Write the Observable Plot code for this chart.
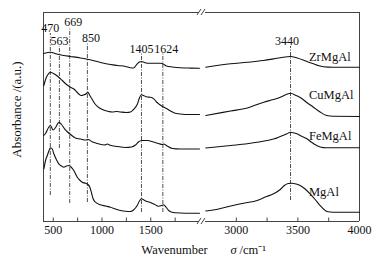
<!DOCTYPE html>
<html><head><meta charset="utf-8">
<script src="https://cdn.jsdelivr.net/npm/d3@7"></script>
<script src="https://cdn.jsdelivr.net/npm/@observablehq/plot@0.6"></script>
<style>html,body{margin:0;padding:0;background:#fff;}</style>
</head><body><div id="chart"></div>
<script>
const samples = ["ZrMgAl", "CuMgAl", "FeMgAl", "MgAl"];

const zrWave = [400,411,472,534,606,677,780,862,985,1087,1159,1241,1292,1323,1361,1384,1405,1436,1476,1531,1599,1630,1661,1722,1804,1907,2000,
  2752,2954,3089,3220,3357,3440,3494,3543,3583,3626,3664,3707,3785,4000];
const zrAbs = [1.68,1.683,1.693,1.675,1.66,1.65,1.635,1.62,1.59,1.57,1.56,1.55,1.537,1.535,1.577,1.595,1.60,1.59,1.582,1.583,1.583,1.575,1.555,1.545,1.537,1.534,1.533,
  1.543,1.577,1.592,1.61,1.637,1.65,1.635,1.615,1.595,1.577,1.56,1.548,1.543,1.543];

const cuWave = [404,421,442,472,503,541,592,636,677,711,738,762,785,811,841,856,872,900,933,967,1015,1067,1105,1149,1190,1251,1292,1323,1361,1384,1405,1425,1463,1497,1531,1559,1590,1630,1661,1702,1743,1804,1907,2000,
  2752,2954,3089,3223,3301,3357,3406,3440,3486,3519,3567,3626,3680,3734,3785,4000];
const cuAbs = [1.36,1.42,1.465,1.493,1.48,1.455,1.41,1.37,1.343,1.325,1.30,1.275,1.26,1.265,1.28,1.293,1.265,1.22,1.17,1.14,1.115,1.10,1.095,1.10,1.095,1.09,1.095,1.12,1.17,1.235,1.267,1.26,1.245,1.243,1.227,1.195,1.17,1.145,1.13,1.105,1.085,1.075,1.07,1.07,
  1.06,1.105,1.135,1.193,1.22,1.243,1.27,1.283,1.26,1.24,1.195,1.143,1.095,1.06,1.052,1.05];

const feWave = [400,421,452,472,498,524,559,585,616,647,677,728,780,831,856,903,954,1026,1056,1077,1159,1241,1302,1343,1374,1405,1466,1528,1579,1620,1635,1661,1722,1804,2000,
  2752,2954,3089,3169,3250,3303,3357,3411,3440,3492,3527,3573,3611,3653,3688,3728,4000];
const feAbs = [0.86,0.88,0.94,0.96,0.915,0.94,0.993,0.97,0.927,0.895,0.87,0.835,0.825,0.815,0.82,0.795,0.78,0.765,0.775,0.765,0.75,0.74,0.745,0.765,0.795,0.81,0.81,0.795,0.78,0.77,0.775,0.76,0.73,0.725,0.725,
  0.735,0.76,0.777,0.792,0.81,0.825,0.85,0.877,0.893,0.877,0.855,0.827,0.792,0.76,0.742,0.737,0.737];

const mgWave = [404,421,439,457,472,490,506,534,557,585,609,636,662,682,711,746,770,797,831,856,875,893,908,933,985,1036,1087,1138,1190,1241,1292,1323,1361,1384,1405,1430,1463,1497,1531,1559,1582,1610,1633,1655,1684,1712,1753,1856,2000,
  2752,2857,2954,3067,3169,3236,3303,3357,3390,3422,3452,3486,3519,3559,3599,3640,3680,3712,3736,3785,4000];
const mgAbs = [0.527,0.61,0.66,0.71,0.738,0.725,0.677,0.615,0.577,0.555,0.543,0.555,0.56,0.545,0.51,0.443,0.415,0.393,0.382,0.37,0.343,0.285,0.23,0.193,0.167,0.155,0.143,0.125,0.11,0.102,0.10,0.115,0.16,0.205,0.227,0.215,0.20,0.19,0.175,0.16,0.153,0.16,0.167,0.145,0.11,0.095,0.087,0.083,0.083,
  0.105,0.125,0.155,0.185,0.21,0.245,0.277,0.32,0.36,0.38,0.383,0.375,0.36,0.325,0.277,0.22,0.16,0.12,0.10,0.093,0.093];

const sampleLabelY = [1.65, 1.27, 0.855, 0.30];
const sampleLabelWave = 3590;

const peakWave = [470, 563, 669, 850, 1405, 1624, 3440];
const peakLabels = ["470", "563", "669", "850", "1405", "1624", "3440"];
const peakLabelY = [1.935, 1.80, 1.99, 1.835, 1.72, 1.72, 1.80];
const peakTop = [1.88, 1.75, 1.94, 1.78, 1.68, 1.68, 1.75];
const peakBottom = [0.26, 0.73, 0.18, 0.19, 0.09, 0.09, 0.21];

const xSegments = [[400, 2000], [2750, 4000]];
const majorTicks = [500, 1000, 1500, 3000, 3500, 4000];
const minorTicks = [750, 1250, 1750, 3250, 3750];
const yMax = 2.09;

const series = [[samples[0], zrWave, zrAbs], [samples[1], cuWave, cuAbs], [samples[2], feWave, feAbs], [samples[3], mgWave, mgAbs]];
const rows = [];
for (const [name, w, a] of series) w.forEach((x, i) => rows.push({sample: name, seg: x > xSegments[0][1] ? 1 : 0, w: x, a: a[i]}));
const peaks = peakWave.map((w, i) => ({w, label: peakLabels[i], ly: peakLabelY[i], top: peakTop[i], bottom: peakBottom[i]}));
const sampleRows = samples.map((s, i) => ({s, y: sampleLabelY[i]}));

const shiftRight = new Set(["669", "850", "1624"]);
const shiftLeft = new Set(["3440"]);

const ink = "#222";
const chart = Plot.plot({
  width: 379, height: 264,
  marginLeft: 43, marginRight: 20, marginTop: 12, marginBottom: 43,
  style: {fontFamily: "'Liberation Serif','Times New Roman',serif", fontSize: "12px", background: "white", color: "#111"},
  x: {type: "linear", domain: [400, 2000, 2750, 4000], range: [43, 199, 205, 359], label: null},
  y: {domain: [0, yMax], axis: null, label: null},
  marks: [
    Plot.ruleX([400, 4000], {stroke: "#444"}),
    ...xSegments.map(([a, b]) => Plot.ruleY([0, yMax], {x1: a, x2: b, stroke: "#444"})),
    Plot.ruleX([...majorTicks, ...minorTicks], {y1: 0, y2: 0.035, stroke: "#444"}),
    Plot.axisX(majorTicks, {tickSize: 0, tickPadding: 4, fontSize: 12, label: null, tickFormat: d => String(d)}),
    Plot.ruleX(peaks, {x: "w", y1: "bottom", y2: "top", stroke: ink, strokeWidth: 0.8, strokeDasharray: "4,1.5,1,1.5"}),
    Plot.text(peaks, {filter: d => !shiftRight.has(d.label) && !shiftLeft.has(d.label), x: "w", y: "ly", text: "label", fontSize: 12, fill: "#111"}),
    Plot.text(peaks, {filter: d => shiftRight.has(d.label), x: "w", y: "ly", text: "label", dx: 3.5, fontSize: 12, fill: "#111"}),
    Plot.text(peaks, {filter: d => shiftLeft.has(d.label), x: "w", y: "ly", text: "label", dx: -3.5, fontSize: 12, fill: "#111"}),
    Plot.line(rows, {x: "w", y: "a", z: d => d.sample + d.seg, curve: "monotone-x", stroke: "#111", strokeWidth: 1.1}),
    Plot.text(sampleRows, {x: () => sampleLabelWave, y: "y", text: "s", textAnchor: "start", fontSize: 12.5, fill: "#111"}),
    Plot.text(["Absorbance /(a.u.)"], {frameAnchor: "left", textAnchor: "middle", lineAnchor: "middle", rotate: -90, dx: -27, dy: -7.5, fontSize: 13, fill: "#111"}),
    Plot.text(["Wavenumber"], {frameAnchor: "bottom", lineAnchor: "middle", dx: -27, dy: 28, fontSize: 12.5, fill: "#111"}),
    Plot.text(["σ"], {frameAnchor: "bottom", lineAnchor: "middle", dx: 29, dy: 28, fontSize: 12.5, fontStyle: "italic", textAnchor: "start", fill: "#111"}),
    Plot.text(["/cm⁻¹"], {frameAnchor: "bottom", lineAnchor: "middle", dx: 38, dy: 28, fontSize: 12.5, textAnchor: "start", fill: "#111"}),
    (index, scales) => {
      const g = d3.create("svg:g").attr("stroke", "#444").attr("fill", "none");
      const cx = (scales.x(xSegments[0][1]) + scales.x(xSegments[1][0])) / 2;
      for (const yv of [0, yMax]) {
        const cy = scales.y(yv);
        for (const k of [0, 1]) {
          g.append("line").attr("x1", cx - 5 + 4 * k).attr("y1", cy + 3).attr("x2", cx - 1 + 4 * k).attr("y2", cy - 3);
        }
      }
      return g.node();
    }
  ]
});
document.getElementById("chart").appendChild(chart);
</script>
</body></html>
